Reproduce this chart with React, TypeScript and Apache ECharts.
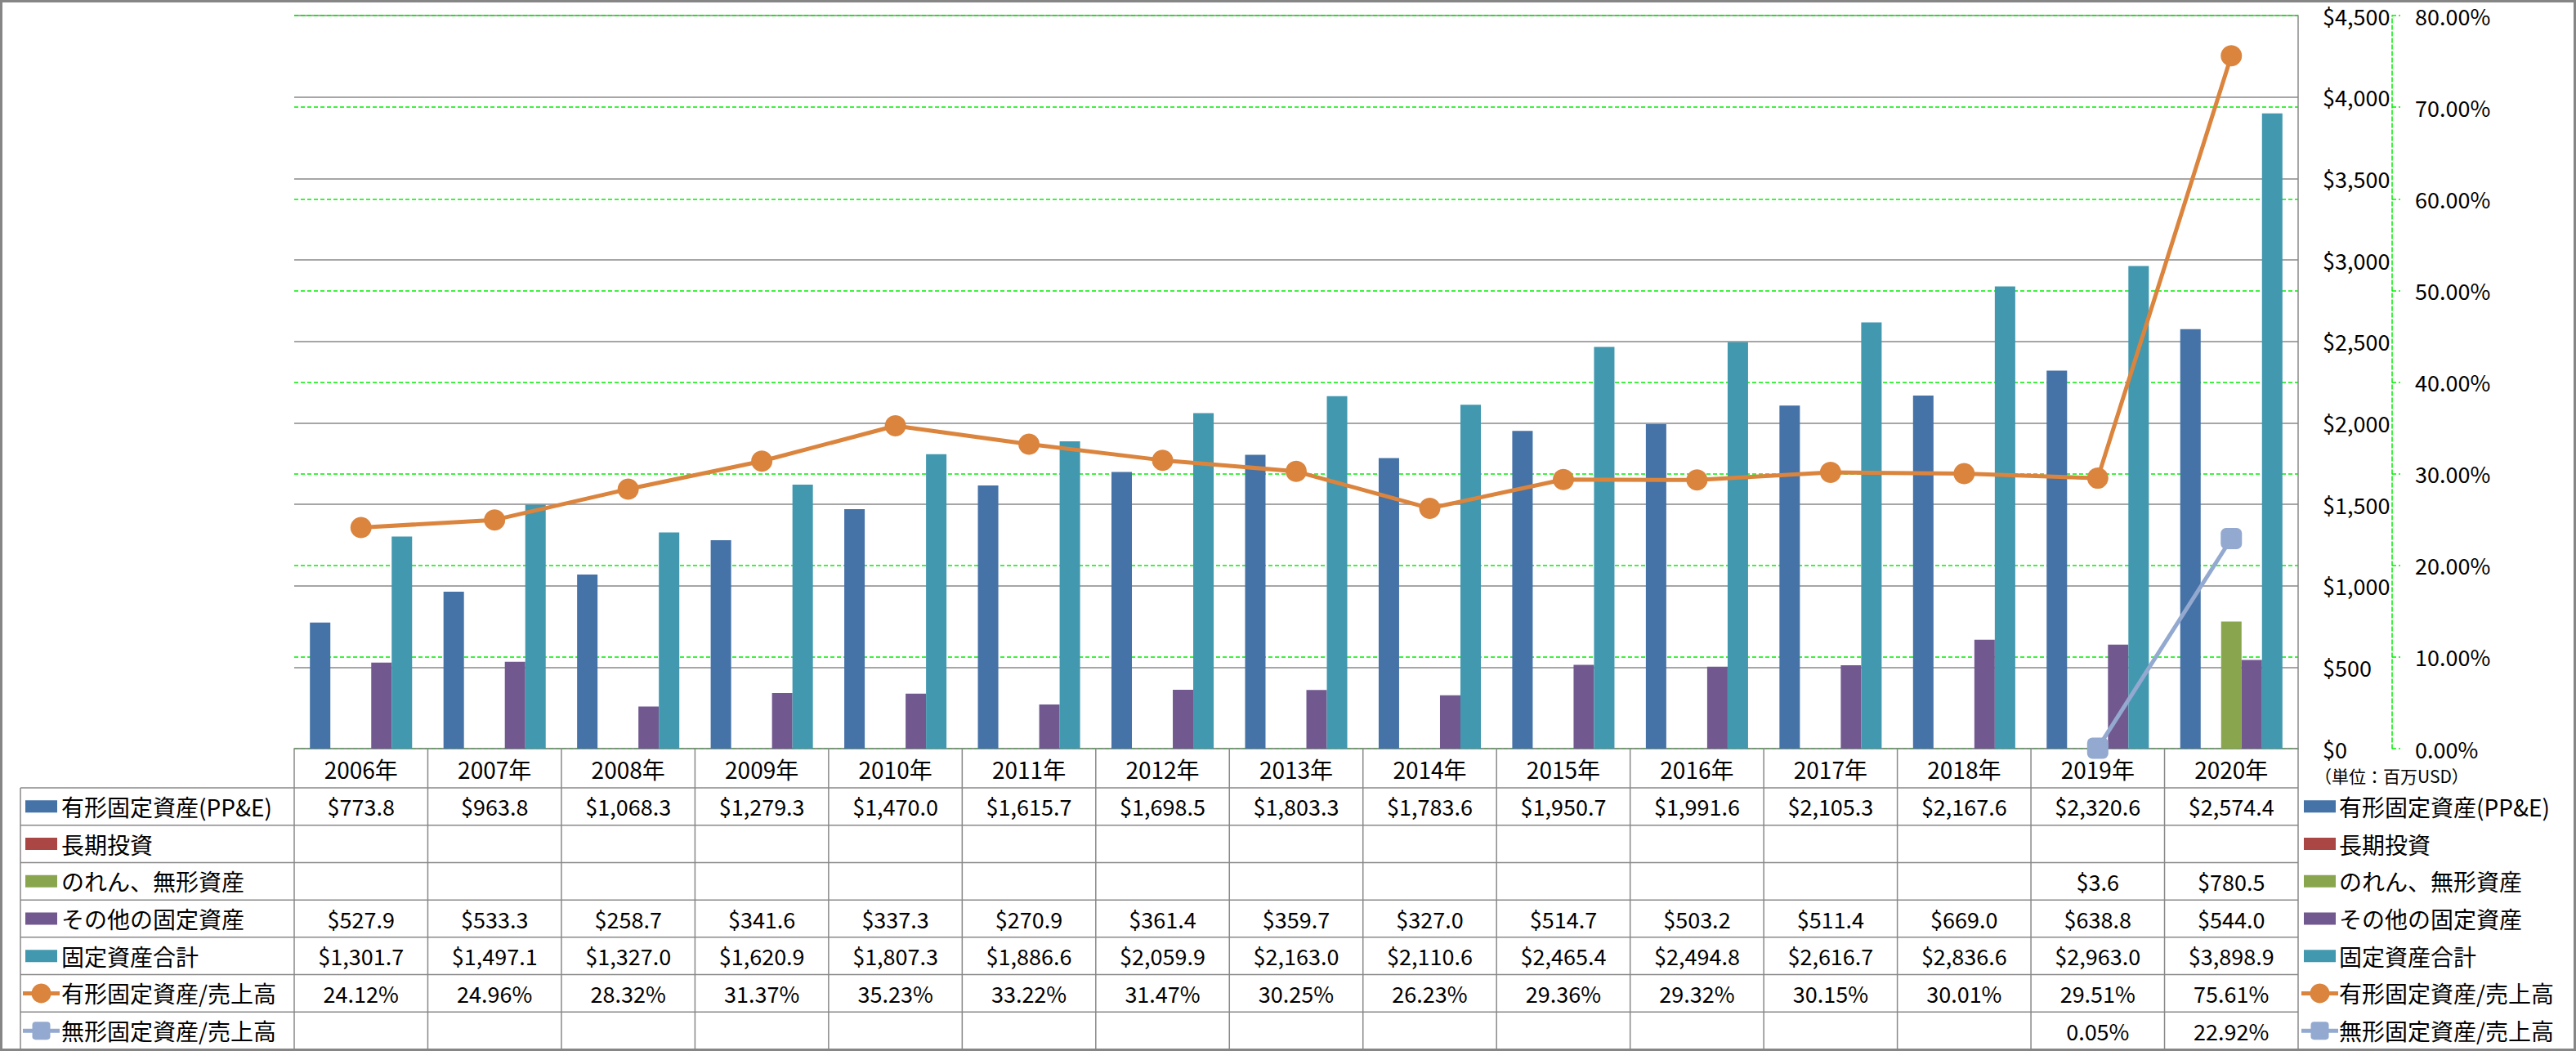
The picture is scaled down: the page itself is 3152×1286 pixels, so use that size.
import React, { useEffect, useRef } from "react";
import * as echarts from "echarts";

const years = ["2006年", "2007年", "2008年", "2009年", "2010年", "2011年", "2012年", "2013年", "2014年", "2015年", "2016年", "2017年", "2018年", "2019年", "2020年"];
const ppe = [773.8, 963.8, 1068.3, 1279.3, 1470.0, 1615.7, 1698.5, 1803.3, 1783.6, 1950.7, 1991.6, 2105.3, 2167.6, 2320.6, 2574.4];
const longInvest = [null, null, null, null, null, null, null, null, null, null, null, null, null, null, null];
const goodwill = [null, null, null, null, null, null, null, null, null, null, null, null, null, 3.6, 780.5];
const otherFixed = [527.9, 533.3, 258.7, 341.6, 337.3, 270.9, 361.4, 359.7, 327.0, 514.7, 503.2, 511.4, 669.0, 638.8, 544.0];
const totalFixed = [1301.7, 1497.1, 1327.0, 1620.9, 1807.3, 1886.6, 2059.9, 2163.0, 2110.6, 2465.4, 2494.8, 2616.7, 2836.6, 2963.0, 3898.9];
const ppeRatio = [24.12, 24.96, 28.32, 31.37, 35.23, 33.22, 31.47, 30.25, 26.23, 29.36, 29.32, 30.15, 30.01, 29.51, 75.61];
const intangRatio = [null, null, null, null, null, null, null, null, null, null, null, null, null, 0.05, 22.92];

const seriesNames = ["有形固定資産(PP&E)", "長期投資", "のれん、無形資産", "その他の固定資産", "固定資産合計", "有形固定資産/売上高", "無形固定資産/売上高"];
const seriesColors = ["#4572A7", "#AA4643", "#89A54E", "#71588F", "#4198AF", "#DB843D", "#93A9CF"];
const unitNote = "（単位：百万USD）";

const W = 3152;
const H = 1286;
const FONT = "'Noto Sans CJK JP', 'Noto Sans', sans-serif";
const GRID = { left: 360, right: 340, top: 19, bottom: 370 };
const GRAY = "#898989";
const GREEN = "#00EE00";

const fmtMoney = (v: number | null) =>
  v == null ? "" : "$" + v.toLocaleString("en-US", { minimumFractionDigits: 1, maximumFractionDigits: 1 });
const fmtPct = (v: number | null) => (v == null ? "" : v.toFixed(2) + "%");

export default function App() {
  const ref = useRef<HTMLDivElement>(null);
  useEffect(() => {
    document.body.style.margin = "0";
    document.body.style.overflow = "hidden";
    const chart = echarts.init(ref.current!, null, { renderer: "svg" });
    const barData = [ppe, longInvest, goodwill, otherFixed, totalFixed];
    const lineData = [ppeRatio, intangRatio];
    const option: any = {
      animation: false,
      textStyle: { fontFamily: FONT },
      grid: { left: GRID.left, right: GRID.right, top: GRID.top, bottom: GRID.bottom, containLabel: false },
      xAxis: {
        type: "category",
        data: years,
        axisLine: { show: true, lineStyle: { color: GRAY, width: 1.5 } },
        axisTick: { show: false },
        axisLabel: { fontSize: 28, color: "#000", margin: 11, fontFamily: FONT },
      },
      yAxis: [
        {
          type: "value",
          position: "right",
          min: 0,
          max: 4500,
          interval: 500,
          axisLine: { show: true, lineStyle: { color: GRAY, width: 1.5 } },
          axisTick: { show: false },
          axisLabel: {
            fontSize: 27,
            color: "#000",
            margin: 30,
            align: "left",
            fontFamily: FONT,
            formatter: (v: number) => "$" + v.toLocaleString("en-US"),
          },
          splitLine: { show: true, lineStyle: { color: GRAY, width: 1.5 } },
        },
        {
          type: "value",
          position: "right",
          offset: 115,
          min: 0,
          max: 80,
          interval: 10,
          axisLine: { show: true, lineStyle: { color: GREEN, width: 1.5, type: [5, 3] } },
          axisTick: { show: true, inside: false, length: 10, lineStyle: { color: GREEN, width: 1.5, type: [5, 3] } },
          axisLabel: {
            fontSize: 27,
            color: "#000",
            margin: 28,
            align: "left",
            fontFamily: FONT,
            formatter: (v: number) => v.toFixed(2) + "%",
          },
          splitLine: { show: true, lineStyle: { color: GREEN, width: 1.5, type: [5, 3] } },
        },
      ],
      series: [
        ...barData.map((d, i) => ({
          name: seriesNames[i],
          type: "bar",
          yAxisIndex: 0,
          data: d,
          barGap: "0%",
          barCategoryGap: "23.5%",
          itemStyle: { color: seriesColors[i] },
          z: 2,
        })),
        {
          name: seriesNames[5],
          type: "line",
          yAxisIndex: 1,
          data: lineData[0],
          symbol: "circle",
          symbolSize: 26,
          showAllSymbol: true,
          lineStyle: { color: seriesColors[5], width: 5 },
          itemStyle: { color: seriesColors[5] },
          z: 4,
        },
        {
          name: seriesNames[6],
          type: "line",
          yAxisIndex: 1,
          data: lineData[1],
          symbol: "roundRect",
          symbolSize: 26,
          showAllSymbol: true,
          lineStyle: { color: seriesColors[6], width: 5 },
          itemStyle: { color: seriesColors[6] },
          z: 3,
        },
      ],
    };
    chart.setOption(option);

    // Table built from the chart's own category scale
    const centers = years.map((y) => chart.convertToPixel({ xAxisIndex: 0 }, y) as number);
    const bandW = centers[1] - centers[0];
    const xStart = centers[0] - bandW / 2;
    const xEnd = centers[centers.length - 1] + bandW / 2;
    const axisY = chart.convertToPixel({ yAxisIndex: 0 }, 0) as number;
    const headerBottom = axisY + 48;
    const tableBottom = H - 2;
    const rowH = (tableBottom - headerBottom) / seriesNames.length;
    const legendLeft = 25;
    const rows = [ppe, longInvest, goodwill, otherFixed, totalFixed, ppeRatio, intangRatio];
    const rowFmt = [fmtMoney, fmtMoney, fmtMoney, fmtMoney, fmtMoney, fmtPct, fmtPct];

    const g: any[] = [];
    const lineStyle = { stroke: GRAY, lineWidth: 1.5 };
    // horizontal lines
    for (let r = 0; r <= rows.length; r++) {
      const y = headerBottom + r * rowH;
      g.push({ type: "line", shape: { x1: legendLeft, y1: y, x2: xEnd, y2: y }, style: lineStyle, silent: true });
    }
    // vertical lines
    g.push({ type: "line", shape: { x1: legendLeft, y1: headerBottom, x2: legendLeft, y2: tableBottom }, style: lineStyle });
    for (let i = 0; i <= years.length; i++) {
      const x = xStart + i * bandW;
      g.push({ type: "line", shape: { x1: x, y1: axisY, x2: x, y2: tableBottom }, style: lineStyle });
    }
    // cell texts
    rows.forEach((vals, r) => {
      const cy = headerBottom + (r + 0.5) * rowH;
      vals.forEach((v, i) => {
        const s = rowFmt[r](v as any);
        if (!s) return;
        g.push({
          type: "text",
          x: centers[i],
          y: cy,
          style: { text: s, fontSize: 27, fontFamily: FONT, fill: "#000", align: "center", verticalAlign: "middle" },
        });
      });
    });
    // legend keys (left in table, right beside table)
    const addKey = (r: number, sx: number, tx: number) => {
      const cy = headerBottom + (r + 0.5) * rowH;
      const c = seriesColors[r];
      if (r < 5) {
        g.push({ type: "rect", shape: { x: sx, y: cy - 7.5, width: 39, height: 15 }, style: { fill: c } });
      } else {
        g.push({ type: "line", shape: { x1: sx - 3, y1: cy, x2: sx + 42, y2: cy }, style: { stroke: c, lineWidth: 5 } });
        if (r === 5) {
          g.push({ type: "circle", shape: { cx: sx + 19.5, cy, r: 12 }, style: { fill: c } });
        } else {
          g.push({ type: "rect", shape: { x: sx + 8.5, y: cy - 11, width: 22, height: 22, r: 4 }, style: { fill: c } });
        }
      }
      g.push({
        type: "text",
        x: tx,
        y: cy,
        style: { text: seriesNames[r], fontSize: 28, fontFamily: FONT, fill: "#000", align: "left", verticalAlign: "middle" },
      });
    };
    for (let r = 0; r < seriesNames.length; r++) {
      addKey(r, 31, 75);
      addKey(r, xEnd + 7, xEnd + 50);
    }
    g.push({
      type: "text",
      x: xEnd + 20,
      y: axisY + 33,
      style: { text: unitNote, fontSize: 21, fontFamily: FONT, fill: "#000", align: "left", verticalAlign: "middle" },
    });
    // chart border
    g.push({
      type: "rect",
      shape: { x: 1.5, y: 1.5, width: W - 3, height: H - 3 },
      style: { fill: "none", stroke: "#868686", lineWidth: 3 },
      silent: true,
      z: 100,
    });
    chart.setOption({ graphic: { elements: g } });

    return () => chart.dispose();
  }, []);
  return <div ref={ref} style={{ width: W, height: H }} />;
}
